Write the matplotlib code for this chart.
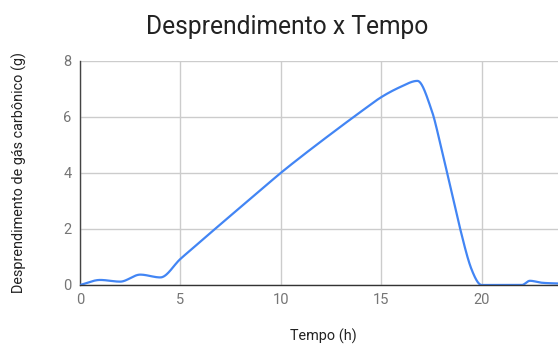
import numpy as np
import matplotlib
matplotlib.use("Agg")
import matplotlib.pyplot as plt

plt.rcParams['font.family'] = ['Roboto', 'DejaVu Sans']

title = "Desprendimento x Tempo"
x_label = "Tempo (h)"
y_label = "Desprendimento de gás carbônico (g)"
x_ticks = [0, 5, 10, 15, 20]
y_ticks = [0, 2, 4, 6, 8]

tempo = [0, 1, 2, 3, 4, 5, 6, 7, 8, 9, 10, 11, 12, 13, 14, 15, 16, 16.8,
         17.5, 18, 19, 19.5, 20, 21, 22, 22.4, 23, 24]
desprendimento = [0, 0.18, 0.12, 0.37, 0.27, 0.93, 1.55, 2.17, 2.78, 3.39, 4.0,
                  4.57, 5.12, 5.66, 6.19, 6.7, 7.08, 7.28,
                  6.25, 4.85, 1.8, 0.55, 0, 0, 0, 0.15, 0.08, 0.05]


def smooth_curve(x, y, xs):
    x = np.asarray(x, float); y = np.asarray(y, float)
    n = len(x); h = np.diff(x); d = np.diff(y) / h
    m = np.zeros(n)
    m[1:-1] = (y[2:] - y[:-2]) / (x[2:] - x[:-2])
    m[0] = d[0]; m[-1] = d[-1]
    for k in range(1, n - 1):
        if d[k - 1] * d[k] <= 0:
            m[k] = 0.0
    idx = np.clip(np.searchsorted(x, xs) - 1, 0, n - 2)
    t = (xs - x[idx]) / h[idx]
    h00 = 2*t**3 - 3*t**2 + 1; h10 = t**3 - 2*t**2 + t
    h01 = -2*t**3 + 3*t**2; h11 = t**3 - t**2
    return h00*y[idx] + h10*h[idx]*m[idx] + h01*y[idx+1] + h11*h[idx]*m[idx+1]


xs = np.linspace(tempo[0], tempo[-1], 1500)
ys = smooth_curve(tempo, desprendimento, xs)

fig = plt.figure(figsize=(5.58, 3.44), dpi=100)
ax = fig.add_axes([80/558, 59/344, 478/558, 224.3/344])
ax.plot(xs, ys, color='#4285F4', lw=1.6, solid_capstyle='round', zorder=3, clip_on=True)
ax.set_xlim(0, 23.8)
ax.set_ylim(0, 8)
ax.set_xticks(x_ticks)
ax.set_yticks(y_ticks)
ax.grid(True, color='#cccccc', lw=1)
ax.set_axisbelow(True)
for s in ['top', 'right']:
    ax.spines[s].set_visible(False)
ax.spines['bottom'].set_color('#333333')
ax.spines['left'].set_color('#444444')
ax.spines['bottom'].set_linewidth(1)
ax.spines['left'].set_linewidth(1)
ax.spines['bottom'].set_zorder(4)
ax.tick_params(length=0, colors='#757575', labelsize=10.5)
ax.tick_params(axis='x', pad=6)
ax.tick_params(axis='y', pad=6)
ax.set_ylabel(y_label, fontsize=10.4, color='#222222', labelpad=26)
fig.text(323/558, 1 - 336/344, x_label, ha='center', va='center', fontsize=10.4, color='#222222')
fig.text(0.514, 1 - 27/344, title, ha='center', va='center', fontsize=17.7, color='#222222')
fig.savefig('out.png', dpi=100)
